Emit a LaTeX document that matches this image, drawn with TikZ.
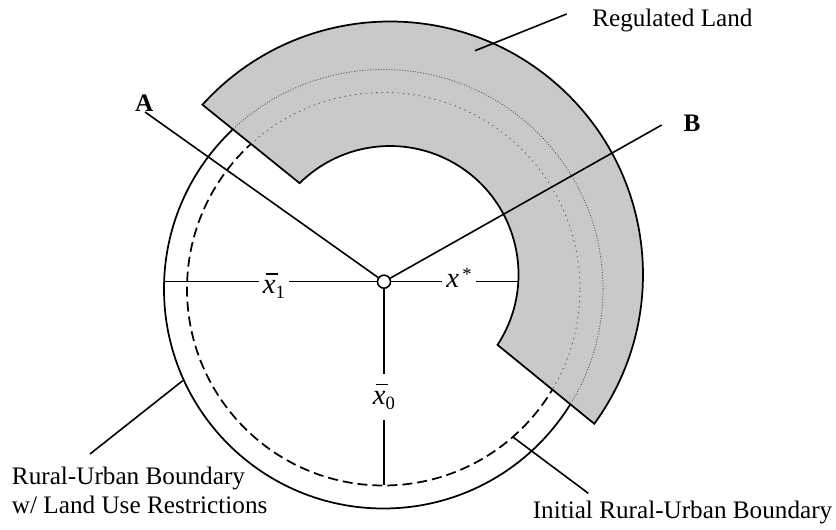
\documentclass[tikz,border=0pt]{standalone}
\usepackage{fontspec}
\setmainfont{Liberation Serif}
\def\regpath{([shift={(390,254.5)}]137.85:253) arc[start angle=137.85,end angle=-36.16,radius=253] -- ([shift={(390,254.5)}]-33.2:128.5) arc[start angle=-33.2,end angle=134.7,radius=128.5] -- cycle}
\newcommand\xsub[1]{\raisebox{-0.4ex}{\fontsize{14}{14}\selectfont #1}}
\newcommand\xbar{\leavevmode\rlap{\hspace{0.12em}\rule[0.66em]{0.4em}{0.045em}}\textit{x}}
\begin{document}
\begin{tikzpicture}[x=0.75pt,y=0.75pt,
  lw/.style={line width=1.2pt},
  bnd/.style={line width=1.3pt},
  dotc/.style={line width=0.6pt,black!65,dash pattern=on 0.8pt off 1.2pt},
  dotd/.style={line width=0.6pt,black!65,dash pattern=on 1pt off 3pt},
  txt/.style={font=\fontsize{18.9}{21.5}\selectfont,inner sep=0pt},
  mlab/.style={font=\fontsize{21.5}{24}\selectfont,fill=white,inner xsep=3pt,inner ysep=5pt},
  hub/.style={circle,draw,line width=1.2pt,fill=white,minimum size=9.75pt,inner sep=0pt}]
\useasboundingbox (0,0) rectangle (836,529);
\coordinate (O) at (383.5,240);
% boundaries
\draw[bnd] (O) circle[radius=219.5];
\draw[bnd,dash pattern=on 7.5pt off 3.75pt] (O) circle[radius=196.5];
% regulated land
\fill[black!21] \regpath;
\begin{scope}
  \clip \regpath;
  \draw[dotc] (O) circle[radius=219.5];
  \draw[dotd] (O) circle[radius=196.5];
\end{scope}
\draw[bnd] \regpath;
% hub and arms
\node[hub] (c) at (384,247.3) {};
\coordinate (L1) at (164.1,247.3);
\coordinate (R1) at (518.3,247.3);
\coordinate (D1) at (384,44);
\draw[lw] (L1) -- (c);
\draw[lw] (c) -- (R1);
\draw[lw] (c) -- (D1);
\node[mlab] (x1) at (274,243) {\xbar\xsub{1}};
\node[mlab] (xs) at (459,251) {\textit{x}\raisebox{0.5ex}{\fontsize{14}{14}\selectfont\,*}};
\node[mlab,inner ysep=8pt] (x0) at (384,132) {\xbar\xsub{0}};
% A and B
\node[txt] (A) at (144.3,425.7) {\textbf{A}};
\coordinate (Aend) at (145,417);
\draw[lw] (Aend) -- (c);
\node[txt] (B) at (692,406) {\textbf{B}};
\coordinate (Bend) at (661.7,404);
\draw[lw] (c) -- (Bend);
% labels with leaders
\node[txt,anchor=base west] (RL) at (592,502.4) {Regulated Land};
\coordinate (RLa) at (566.7,515);
\coordinate (RLb) at (475,478.3);
\draw[lw] (RLa) -- (RLb);
\node[txt,anchor=base west] (RU1) at (11.7,44.4) {Rural-Urban Boundary};
\node[txt,anchor=base west] (RU2) at (11.7,15.7) {w/ Land Use Restrictions};
\coordinate (RUa) at (90,75);
\coordinate (RUb) at (182.7,148.3);
\draw[lw] (RUa) -- (RUb);
\node[txt,anchor=base west] (IB) at (532.5,10.5) {Initial Rural-Urban Boundary};
\coordinate (IBa) at (513.3,91.7);
\coordinate (IBb) at (588.3,35.7);
\draw[lw] (IBa) -- (IBb);
\end{tikzpicture}
\end{document}
